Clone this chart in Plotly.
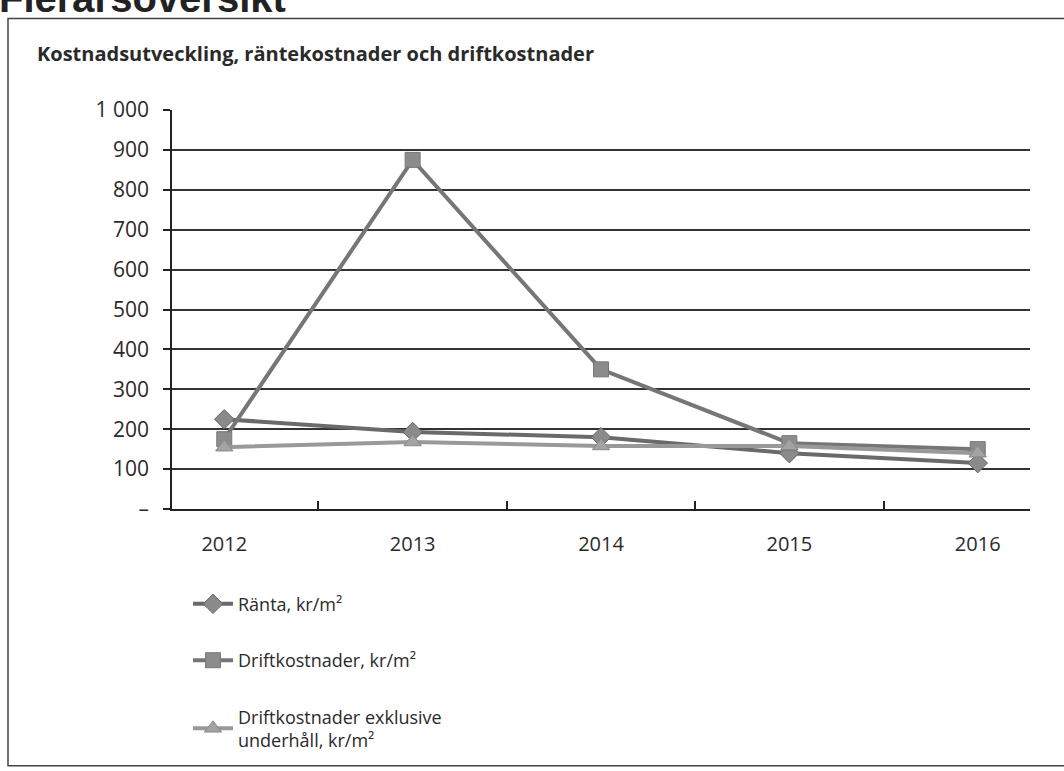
import plotly.graph_objects as go

years = ["2012", "2013", "2014", "2015", "2016"]
ranta = [225, 193, 180, 140, 115]
drift = [175, 875, 350, 165, 150]
drift_exkl = [155, 168, 158, 158, 140]

y_tickvals = [0, 100, 200, 300, 400, 500, 600, 700, 800, 900, 1000]
y_ticktext = ["–", "100", "200", "300", "400", "500", "600", "700", "800", "900", "1 000"]

W, H = 1064, 771
L, R, T, B = 172, 34, 110, 260
pw, ph = W - L - R, H - T - B

def px(x):
    return (x - L) / pw

def py(y):
    return (H - B - y) / ph

FONT = "'Open Sans', sans-serif"
TXT = "#2a2a2a"

fig = go.Figure()
fig.add_trace(go.Scatter(
    x=years, y=ranta, name="Ränta, kr/m²", mode="lines+markers",
    line=dict(color="#6a6a6a", width=4),
    marker=dict(symbol="diamond", size=15, color="#8a8a8a", line=dict(color="#666", width=1)),
    legendgroup="a"))
fig.add_trace(go.Scatter(
    x=years, y=drift, name="Driftkostnader, kr/m²", mode="lines+markers",
    line=dict(color="#767676", width=4),
    marker=dict(symbol="square", size=15, color="#8c8c8c", line=dict(color="#777", width=1)),
    legendgroup="b"))
fig.add_trace(go.Scatter(
    x=years, y=drift_exkl, name="Driftkostnader exklusive<br>underhåll, kr/m²", mode="lines+markers",
    line=dict(color="#999", width=4),
    marker=dict(symbol="triangle-up", size=15, color="#a3a3a3", line=dict(color="#888", width=1)),
    legendgroup="c"))

fig.update_layout(
    width=W, height=H,
    margin=dict(l=L, r=R, t=T, b=B),
    paper_bgcolor="white", plot_bgcolor="white",
    font=dict(family=FONT, color=TXT, size=18),
    showlegend=True,
    legend=dict(
        x=px(188), y=py(588), xanchor="left", yanchor="top",
        font=dict(family=FONT, size=18, color=TXT),
        traceorder="grouped", tracegroupgap=30,
        bgcolor="rgba(0,0,0,0)", itemwidth=40,
    ),
    xaxis=dict(
        type="category", showgrid=False,
        showline=True, linecolor="#222", linewidth=1.5,
        ticks="inside", tickson="boundaries", ticklen=8, tickcolor="#222", tickwidth=1.5,
        tickfont=dict(family=FONT, size=20, color=TXT),
        ticklabelstandoff=16,
    ),
    yaxis=dict(
        range=[0, 1000],
        tickvals=y_tickvals, ticktext=y_ticktext,
        showgrid=True, gridcolor="#333", gridwidth=1.5,
        showline=True, linecolor="#222", linewidth=1.5,
        ticks="outside", ticklen=7, tickcolor="#222", tickwidth=1.5,
        tickfont=dict(family=FONT, size=21, color=TXT),
        zeroline=False,
        ticklabelstandoff=10,
    ),
    shapes=[
        dict(type="rect", xref="paper", yref="paper",
             x0=px(8), x1=px(1075), y0=py(769), y1=py(18),
             line=dict(color="#444", width=1.5), layer="below"),
    ],
    annotations=[
        dict(text="<b>Kostnadsutveckling, räntekostnader och driftkostnader</b>",
             xref="paper", yref="paper", x=px(35), y=py(53), xanchor="left", yanchor="middle",
             showarrow=False, font=dict(family=FONT, size=20, color=TXT)),
        dict(text="<b>Flerårsöversikt</b>",
             xref="paper", yref="paper", x=px(-3), y=py(22), xanchor="left", yanchor="bottom",
             showarrow=False, font=dict(family="'Liberation Sans', Arial, sans-serif", size=40, color="#222")),
    ],
)

fig.write_html("out.html")
